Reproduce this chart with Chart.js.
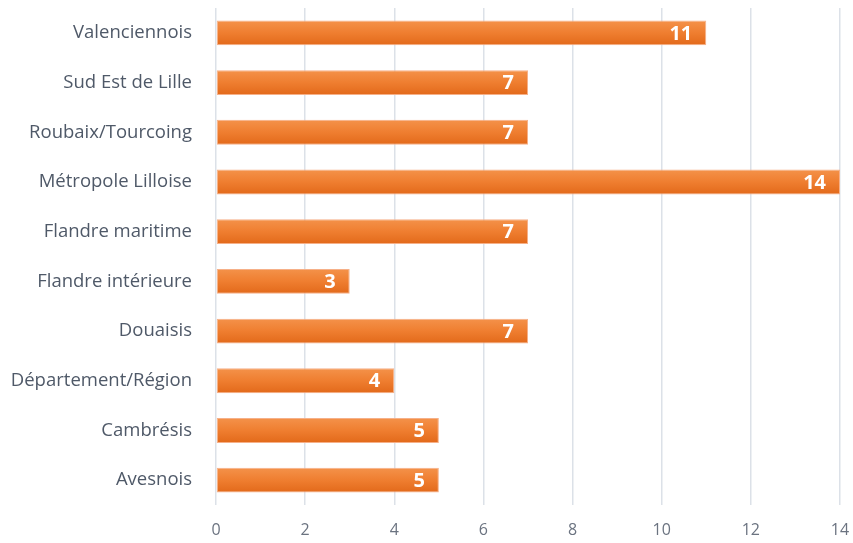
<!DOCTYPE html>
<html><head><meta charset="utf-8">
<script src="https://cdn.jsdelivr.net/npm/chart.js@4"></script>
<style>html,body{margin:0;padding:0;background:#fff}#wrap{width:853px;height:543px}</style>
</head><body><div id="wrap"><canvas id="c"></canvas></div>
<script>
const categories = ["Valenciennois","Sud Est de Lille","Roubaix/Tourcoing","Métropole Lilloise","Flandre maritime","Flandre intérieure","Douaisis","Département/Région","Cambrésis","Avesnois"];
const values = [11,7,7,14,7,3,7,4,5,5];
const xTicks = [0,2,4,6,8,10,12,14];

const valueLabels = {
  id:'valueLabels',
  afterDatasetsDraw(chart){
    const ctx = chart.ctx;
    const meta = chart.getDatasetMeta(0);
    ctx.save();
    ctx.fillStyle = '#ffffff';
    ctx.font = 'bold 20px "Open Sans", sans-serif';
    ctx.textAlign = 'right';
    ctx.textBaseline = 'middle';
    meta.data.forEach((bar,i)=>{
      ctx.fillText(String(values[i]), bar.x - 14, bar.y + 1);
    });
    ctx.restore();
  }
};

new Chart(document.getElementById('c'), {
  type:'bar',
  data:{labels:categories, datasets:[{
    data:values,
    backgroundColor:(c)=>{
      const ch = c.chart, ys = ch.scales && ch.scales.y;
      if(!ys || c.dataIndex === undefined) return '#ED7D31';
      const cy = ys.getPixelForValue(c.dataIndex);
      const h = Math.abs(ys.getPixelForValue(1) - ys.getPixelForValue(0)) * 0.5;
      if(!Number.isFinite(cy) || !Number.isFinite(h) || h <= 0) return '#ED7D31';
      const g = ch.ctx.createLinearGradient(0, cy - h/2, 0, cy + h/2);
      g.addColorStop(0,'#F4924A');
      g.addColorStop(0.5,'#EF7E30');
      g.addColorStop(1,'#E2691A');
      return g;
    },
    borderColor:'#F6B088',
    borderWidth:1,
    borderSkipped:false,
    barPercentage:0.5,
    categoryPercentage:1.0
  }]},
  options:{
    indexAxis:'y',
    responsive:true, maintainAspectRatio:false, animation:false,
    layout:{padding:{left:0,right:13,top:8,bottom:0}},
    plugins:{legend:{display:false},tooltip:{enabled:false}},
    scales:{
      x:{min:0,max:14,
        afterBuildTicks:(s)=>{s.ticks = xTicks.map(v=>({value:v}));},
        afterFit:(s)=>{s.height = 38; s.paddingLeft = 0; s.paddingRight = 0;},
        grid:{color:'#DCE1E8',lineWidth:1.5,drawTicks:false},
        border:{display:false},
        ticks:{color:'#6B7380',font:{family:'"Open Sans", sans-serif',size:16},padding:16}
      },
      y:{
        afterFit:(s)=>{s.width = 216; s.paddingTop = 0; s.paddingBottom = 0;},
        grid:{display:false,drawTicks:false},
        border:{display:false},
        ticks:{color:'#4F5968',font:{family:'"Open Sans", sans-serif',size:18.5},padding:24}
      }
    }
  },
  plugins:[valueLabels]
});
</script></body></html>
